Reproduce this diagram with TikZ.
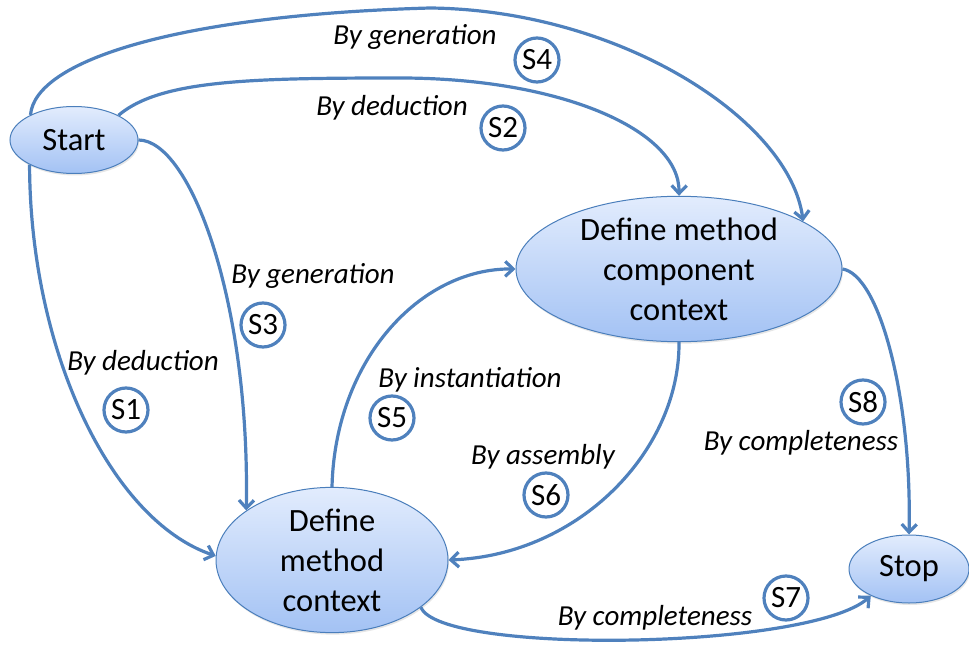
\documentclass[tikz,border=0pt]{standalone}
\usepackage{fontspec}
\setmainfont{Carlito}
\usepackage{xcolor}
\usepackage{tikz}
\usetikzlibrary{shapes.geometric}
\usetikzlibrary{arrows.meta}
\usetikzlibrary{shadows}
\definecolor{edgeblue}{RGB}{79,129,189}
\definecolor{rimblue}{RGB}{74,126,187}
\definecolor{filltop}{RGB}{226,236,253}
\definecolor{fillbot}{RGB}{163,194,244}

\begin{document}
\begin{tikzpicture}[x=1pt,y=-1pt,
	state/.style={ellipse,draw=rimblue,line width=1pt,top color=filltop,bottom color=fillbot,align=center,inner sep=0pt,font=\fontsize{32.5}{40}\selectfont,drop shadow={opacity=0.2,shadow xshift=1pt,shadow yshift=-2pt}},
	way/.style={edgeblue,line width=3.2pt,-{Straight Barb[length=8pt,width=15pt]}},
	lbl/.style={font=\fontsize{29}{34}\selectfont\itshape,inner sep=0pt},
	tag/.style={circle,draw=edgeblue,line width=3.2pt,minimum size=44pt,inner sep=0pt,font=\fontsize{31}{34}\selectfont}]
					\useasboundingbox (0,0) rectangle (969,647);
					\node[state,minimum width=128pt,minimum height=67pt] (start) at (74,140) {Start};
					\node[state,minimum width=326pt,minimum height=122pt] (dmcc) at (679,269) {Define method\\component\\context};
					\node[state,minimum width=232pt,minimum height=120pt] (dmc) at (332,560) {Define\\method\\context};
					\node[state,minimum width=120pt,minimum height=68pt] (stop) at (909,569) {Stop};
					\draw[way] (start.150) .. controls (35,60) and (180,15) .. (430,8) .. controls (620,10) and (790,120) .. (dmcc.21);
					\draw[way] (start.29) .. controls (160,80) and (250,78) .. (400,78) .. controls (560,78) and (680,130) .. (dmcc.north);
					\draw[way] (start.east) .. controls (190,140) and (250,300) .. (dmc.150);
					\draw[way] (start.209) .. controls (30,350) and (110,520) .. (dmc.178);
					\draw[way] (dmc.north) .. controls (335,360) and (420,268) .. (dmcc.west);
					\draw[way] (dmcc.south) .. controls (680,450) and (580,555) .. (dmc.east);
					\draw[way] (dmcc.east) .. controls (880,275) and (912,400) .. (stop.north);
					\draw[way] (dmc.332) .. controls (440,655) and (810,650) .. (stop.215);
					\node[lbl] (gen4) at (415,37) {By generation};
					\node[tag] (s4) at (537,60) {S4};
					\node[lbl] (ded2) at (392,108) {By deduction};
					\node[tag] (s2) at (503,128) {S2};
					\node[lbl] (gen3) at (313,276) {By generation};
					\node[tag] (s3) at (263,325) {S3};
					\node[lbl] (ded1) at (143,363) {By deduction};
					\node[tag] (s1) at (126,410) {S1};
					\node[lbl] (inst5) at (470,380) {By instantiation};
					\node[tag] (s5) at (392,418) {S5};
					\node[lbl] (asm6) at (543,457) {By assembly};
					\node[tag] (s6) at (546,495) {S6};
					\node[tag] (s8) at (863,402) {S8};
					\node[lbl] (comp8) at (801,443) {By completeness};
					\node[tag] (s7) at (786,598) {S7};
					\node[lbl] (comp7) at (655,618) {By completeness};
				\end{tikzpicture}
\end{document}
